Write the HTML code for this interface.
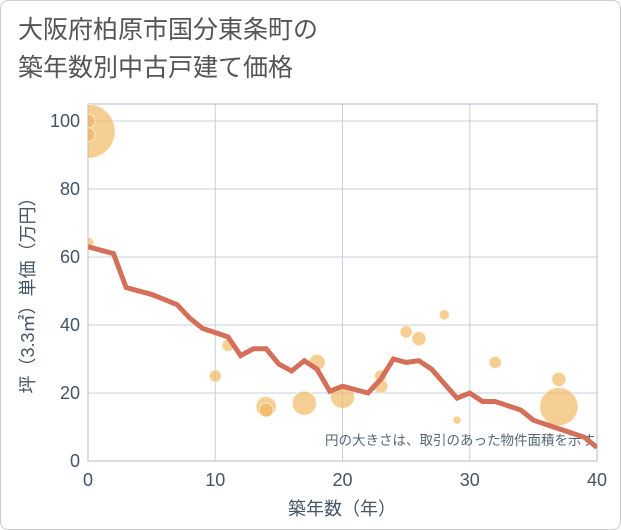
<!DOCTYPE html>
<html><head><meta charset="utf-8"><style>
body{margin:0;background:#fff;}
.wrap{position:relative;width:621px;height:530px;box-sizing:border-box;border:1px solid #ccc;border-radius:8px;overflow:hidden;font-family:"Liberation Sans","Noto Sans CJK JP",sans-serif;}
.title{position:absolute;left:17px;top:10px;font-size:25px;line-height:38px;color:#555;}
</style></head><body>
<div class="wrap">
<div class="title">大阪府柏原市国分東条町の<br>築年数別中古戸建て価格</div>
<svg id="chart" width="621" height="530" style="position:absolute;left:0;top:0"></svg>
</div>
<script>
const years=[0,2,3,5,7,8,9,11,12,13,14,15,16,17,18,19,20,22,23,24,25,26,27,29,30,31,32,34,35,37,39,40];
const prices=[63,61,51,49,46,42,39,36.5,31,33,33,28.5,26.5,29.5,27,20.5,22,20,24,30,29,29.5,27,18.5,20,17.5,17.5,15,12,9.5,7,4];
const bubbleX=[0,0,0,0,10,11,14,14,17,18,20,23,23,25,26,28,29,32,37,37];
const bubbleY=[97,100,96,64,25,34,16,15,17,29,19,25,22,38,36,43,12,29,24,16];
const bubbleR=[27,7,7,6,6,6,10,7,12,8,12,6,7,6,7,5,4,6,7,19];
const xTicks=[0,10,20,30,40];
const yTicks=[0,20,40,60,80,100];
const NS='http://www.w3.org/2000/svg';
const svg=document.getElementById('chart');
const X0=87,X1=596,Y0=460,Ytop=103;
const sx=v=>X0+(X1-X0)*v/40;
const sy=v=>Y0-3.4*v;
function mk(t,a){const e=document.createElementNS(NS,t);for(const k in a)e.setAttribute(k,a[k]);svg.appendChild(e);return e;}
const clip=mk('clipPath',{id:'c'});
const cr=document.createElementNS(NS,'rect');
cr.setAttribute('x',X0);cr.setAttribute('y',Ytop);cr.setAttribute('width',X1-X0);cr.setAttribute('height',Y0-Ytop);clip.appendChild(cr);
yTicks.forEach(t=>{
 if(t>0){const g=mk('line',{x1:X0,x2:X1,y1:sy(t),y2:sy(t),stroke:'#c5d0dc','stroke-width':1});
 
 }
 const l=mk('text',{x:X0-8,y:sy(t)+6,'text-anchor':'end','font-size':18,fill:'#445566'});l.textContent=t;
 
 
});
xTicks.forEach(t=>{
 if(t>0&&t<40){const g=mk('line',{x1:sx(t),x2:sx(t),y1:Ytop,y2:Y0,stroke:'#c5d0dc','stroke-width':1});
 
 }
 const l=mk('text',{x:sx(t),y:Y0+25,'text-anchor':'middle','font-size':18,fill:'#445566'});l.textContent=t;
 
 
});
const frame=mk('rect',{x:X0,y:Ytop,width:X1-X0,height:Y0-Ytop,fill:'none',stroke:'#b5bec8','stroke-width':1});


const bg=mk('g',{'clip-path':'url(#c)'});
bubbleX.forEach((x,i)=>{
 const c=document.createElementNS(NS,'circle');
 c.setAttribute('cx',sx(x));c.setAttribute('cy',sy(bubbleY[i]));c.setAttribute('r',bubbleR[i]);
 c.setAttribute('fill','rgba(240,180,90,0.65)');c.setAttribute('stroke','#fff3e0');c.setAttribute('stroke-width','0.8');
 
 
 bg.appendChild(c);
});
const note=mk('text',{x:594,y:444,'text-anchor':'end','font-size':13.5,fill:'#556677'});note.textContent='円の大きさは、取引のあった物件面積を示す';


const line=mk('polyline',{points:years.map((y,i)=>sx(y)+','+sy(prices[i])).join(' '),fill:'none',stroke:'#d4705a','stroke-width':5,'stroke-linejoin':'miter','clip-path':'url(#c)'});


const xt=mk('text',{x:341,y:514,'text-anchor':'middle','font-size':18,fill:'#445566'});xt.textContent='築年数（年）';


const yt=mk('text',{x:0,y:0,'text-anchor':'middle','font-size':18,fill:'#445566',transform:'translate(33,290) rotate(-90)'});yt.textContent='坪（3.3㎡）単価（万円）';


</script>
</body></html>
